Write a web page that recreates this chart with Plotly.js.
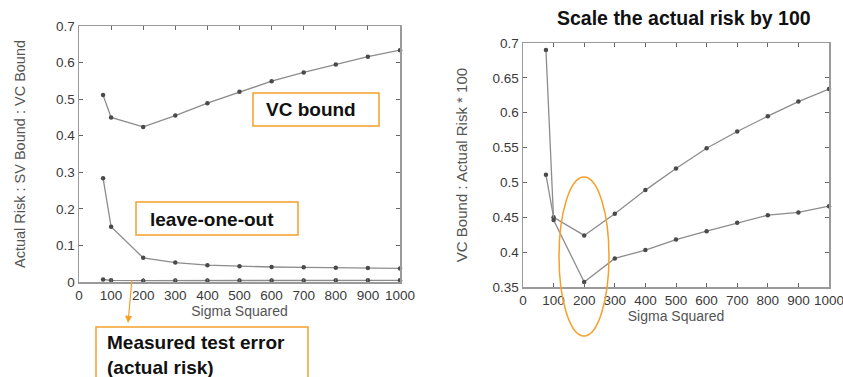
<!DOCTYPE html>
<html>
<head>
<meta charset="utf-8">
<script src="https://cdn.plot.ly/plotly-3.0.1.min.js"></script>
<style>html,body{margin:0;padding:0;background:#fff;}#chart{width:843px;height:377px;}</style>
</head>
<body>
<div id="chart"></div>
<script>
// Data
var sigma = [75, 100, 200, 300, 400, 500, 600, 700, 800, 900, 1000];
var vcBound = [0.511, 0.450, 0.424, 0.455, 0.489, 0.520, 0.549, 0.573, 0.595, 0.616, 0.634];
var looBound = [0.284, 0.151, 0.066, 0.053, 0.046, 0.043, 0.041, 0.040, 0.039, 0.038, 0.037];
var actualRiskScaled = [0.690, 0.446, 0.357, 0.391, 0.403, 0.418, 0.430, 0.442, 0.453, 0.457, 0.466];
var actualRisk = actualRiskScaled.map(function (v) { return v / 100; });

var xTicks = [0, 100, 200, 300, 400, 500, 600, 700, 800, 900, 1000];
var xTickText = ["0", "100", "200", "300", "400", "500", "600", "700", "800", "900", "1000"];
var yTicksLeft = [0, 0.1, 0.2, 0.3, 0.4, 0.5, 0.6, 0.7];
var yTickTextLeft = ["0", "0.1", "0.2", "0.3", "0.4", "0.5", "0.6", "0.7"];
var yTicksRight = [0.35, 0.4, 0.45, 0.5, 0.55, 0.6, 0.65, 0.7];
var yTickTextRight = ["0.35", "0.4", "0.45", "0.5", "0.55", "0.6", "0.65", "0.7"];

var W = 843, H = 377;
function px(x) { return x / W; }
function py(y) { return 1 - y / H; }

var FONT = "Liberation Sans, Arial, sans-serif";
var ORANGE = "#f5a02a";
var lineStyle = { color: "#8c8c8c", width: 1.3 };
var markerStyle = { color: "#4a4a4a", size: 4.5, symbol: "circle" };

function series(y, xa, ya, name) {
  return { x: sigma, y: y, xaxis: xa, yaxis: ya, name: name, type: "scatter",
           mode: "lines+markers", line: lineStyle, marker: markerStyle,
           showlegend: false, cliponaxis: false };
}

var traces = [
  series(vcBound, "x", "y", "VC bound"),
  series(looBound, "x", "y", "leave-one-out"),
  series(actualRisk, "x", "y", "Actual risk"),
  series(vcBound, "x2", "y2", "VC bound"),
  series(actualRiskScaled, "x2", "y2", "Actual risk * 100")
];

function axisBase() {
  return { showline: true, mirror: "ticks", linecolor: "#9a9a9a", linewidth: 1.5,
           ticks: "inside", ticklen: 4, tickcolor: "#666", tickwidth: 1,
           showgrid: false, zeroline: false, automargin: false,
           ticklabeloverflow: "allow",
           tickfont: { family: FONT, size: 13.5, color: "#3a3a3a" } };
}

var xaxis = Object.assign(axisBase(), {
  domain: [px(79), px(400)], range: [0, 1000], anchor: "y",
  tickmode: "array", tickvals: xTicks, ticktext: xTickText,
  title: { text: "Sigma Squared", font: { family: FONT, size: 14, color: "#555" }, standoff: 2 }
});
var yaxis = Object.assign(axisBase(), {
  domain: [py(282), py(26)], range: [0, 0.7], anchor: "x",
  tickmode: "array", tickvals: yTicksLeft, ticktext: yTickTextLeft,
  title: { text: "Actual Risk : SV Bound : VC Bound", font: { family: FONT, size: 14.5, color: "#555" }, standoff: 27 }
});
var xaxis2 = Object.assign(axisBase(), {
  domain: [px(523), px(829)], range: [0, 1000], anchor: "y2",
  tickmode: "array", tickvals: xTicks, ticktext: xTickText,
  title: { text: "Sigma Squared", font: { family: FONT, size: 14, color: "#555" }, standoff: 2 }
});
var yaxis2 = Object.assign(axisBase(), {
  domain: [py(287), py(43)], range: [0.35, 0.7], anchor: "x2",
  tickmode: "array", tickvals: yTicksRight, ticktext: yTickTextRight,
  title: { text: "VC Bound : Actual Risk * 100", font: { family: FONT, size: 15, color: "#555" }, standoff: 21 }
});

var boxLine = { color: ORANGE, width: 1.5 };
var shapes = [
  { type: "rect", xref: "paper", yref: "paper", x0: px(253), x1: px(379), y0: py(93), y1: py(126), line: boxLine, fillcolor: "rgba(255,255,255,0)" },
  { type: "rect", xref: "paper", yref: "paper", x0: px(136), x1: px(298), y0: py(202), y1: py(235), line: boxLine, fillcolor: "rgba(255,255,255,0)" },
  { type: "rect", xref: "paper", yref: "paper", x0: px(96), x1: px(308), y0: py(327), y1: py(390), line: boxLine, fillcolor: "rgba(255,255,255,0)" },
  { type: "circle", xref: "paper", yref: "paper", x0: px(559), x1: px(609), y0: py(177), y1: py(336), line: { color: ORANGE, width: 1.5 } }
];

var boxFont = { family: FONT, size: 19, color: "#111" };
var annotations = [
  { xref: "paper", yref: "paper", x: px(684), y: py(18), text: "<b>Scale the actual risk by 100</b>",
    showarrow: false, xanchor: "center", yanchor: "middle", font: { family: FONT, size: 19.5, color: "#111" } },
  { xref: "paper", yref: "paper", x: px(264), y: py(110), text: "<b>VC bound</b>",
    showarrow: false, xanchor: "left", yanchor: "middle", font: boxFont },
  { xref: "paper", yref: "paper", x: px(148), y: py(219), text: "<b>leave-one-out</b>",
    showarrow: false, xanchor: "left", yanchor: "middle", font: boxFont },
  { xref: "paper", yref: "paper", x: px(105), y: py(355), text: "<b>Measured test error<br>(actual risk)</b>",
    showarrow: false, xanchor: "left", yanchor: "middle", align: "left", font: boxFont },
  { xref: "paper", yref: "paper", x: px(128), y: py(323), text: "", showarrow: true,
    axref: "pixel", ayref: "pixel", ax: 4, ay: -44, arrowhead: 2, arrowsize: 1.2, arrowwidth: 1.2, arrowcolor: ORANGE, standoff: 0 }
];

var layout = {
  width: W, height: H, margin: { l: 0, r: 0, t: 0, b: 0 },
  paper_bgcolor: "#fff", plot_bgcolor: "#fff",
  font: { family: FONT },
  xaxis: xaxis, yaxis: yaxis, xaxis2: xaxis2, yaxis2: yaxis2,
  shapes: shapes, annotations: annotations, showlegend: false
};

Plotly.newPlot("chart", traces, layout, { displayModeBar: false, staticPlot: true });
</script>
</body>
</html>
